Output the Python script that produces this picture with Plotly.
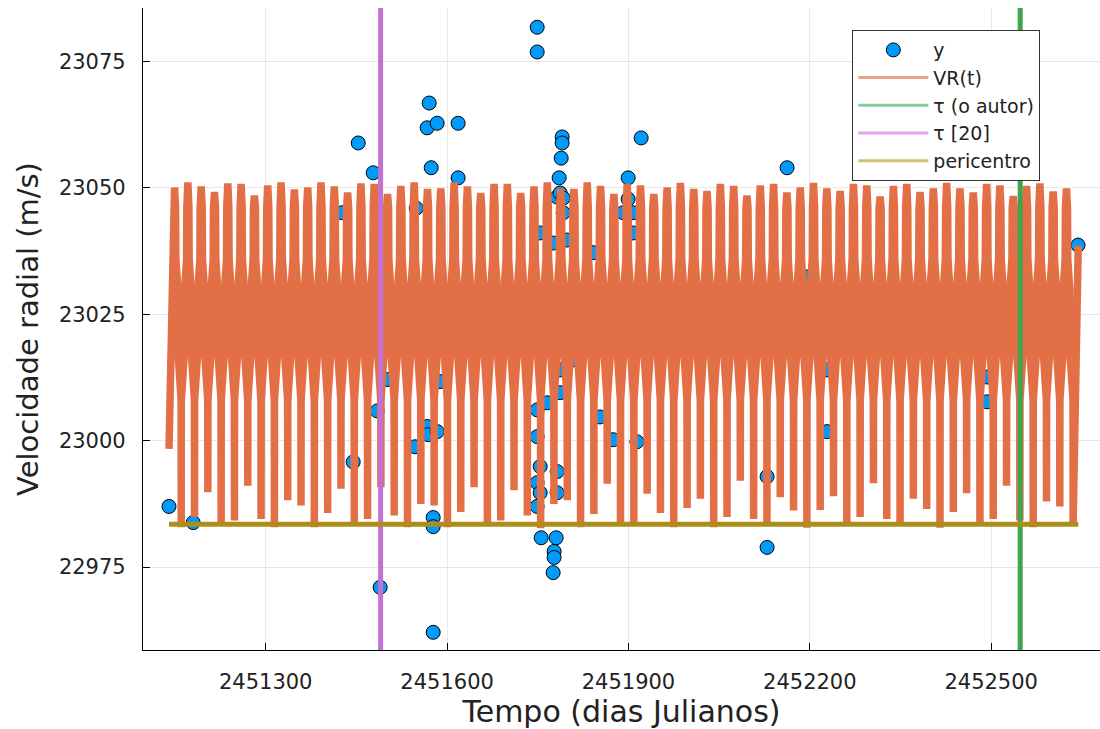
import plotly.graph_objects as go

# ---------------- data ----------------
OBS_T = [2451140, 2451180, 2451426.5, 2451444.7, 2451453, 2451477.8, 2451484.4, 2451489.3,
         2451501, 2451549, 2451547, 2451567, 2451568.7, 2451567, 2451570.4, 2451573.7,
         2451583.6, 2451577, 2451577, 2451577, 2451583.6, 2451618.3, 2451618.3, 2451588.6,
         2451749, 2451749, 2451749, 2451749, 2451754, 2451749, 2451754, 2451749,
         2451755.6, 2451754, 2451765.5, 2451775.4, 2451775.4, 2451777, 2451777, 2451780.4,
         2451782, 2451782, 2451782, 2451785.4, 2451787, 2451788.7, 2451790.3, 2451790.3,
         2451792, 2451792, 2451787, 2451787, 2451798.6, 2451808.5, 2451841.5, 2451853,
         2451874.6, 2451914, 2451899.5, 2451899.5, 2451891.3, 2451907.8, 2451907.8, 2451921,
         2452129.3, 2452129.3, 2452162.4, 2452195.5, 2452228.6, 2452228.6, 2452493.2,
         2452493.2, 2452643.7]
OBS_V = [22987.0, 22983.8, 23045.1, 22995.8, 23058.9, 23053.0, 23005.9, 22971.0,
         23012.1, 23046.0, 22998.8, 23002.8, 23001.2, 23061.9, 23066.8, 23054.0,
         23062.8, 22984.8, 22983.0, 22962.1, 23001.8, 23062.8, 23052.0, 23011.7,
         23081.8, 23076.9, 23006.1, 23000.8, 22994.9, 22991.7, 22989.7, 22987.0,
         22980.8, 23041.1, 23007.5, 23039.1, 22973.9, 22978.1, 22976.9, 22980.8,
         23048.2, 22993.9, 22989.7, 23052.0, 23049.0, 23055.9, 23060.1, 23058.9,
         23048.0, 23045.1, 23009.5, 23014.0, 23039.7, 23016.0, 23037.2, 23004.7,
         23000.2, 22999.8, 23052.0, 23047.8, 23045.1, 23045.1, 23041.1, 23059.9,
         22978.9, 22992.9, 23054.0, 23032.4, 23014.0, 23001.8, 23012.6,
         23007.7, 23038.7]

# model curve VR(t): successive maxima / minima of each cycle
VR_PEAKS = [23050.1, 23051.1, 23050.3, 23049.2, 23050.9, 23050.8, 23048.5, 23050.5, 23051.1, 23049.7,
            23050.1, 23051.1, 23050.3, 23049.1, 23050.9, 23050.8, 23048.8, 23050.4, 23051.1, 23049.8,
            23049.9, 23051.1, 23050.3, 23049.0, 23050.8, 23050.8, 23049.0, 23050.3, 23051.1, 23049.8,
            23049.8, 23051.1, 23050.4, 23048.8,
            23050.8, 23050.5, 23048.8, 23050.1, 23051.0, 23049.8, 23049.4, 23050.8, 23050.4, 23048.5,
            23050.5, 23050.8, 23049.1, 23050.1, 23051.0, 23049.9, 23049.4, 23050.8, 23050.5, 23048.3,
            23050.4, 23050.8, 23049.2, 23049.9, 23051.0, 23049.9, 23049.1, 23050.8, 23050.5, 23048.4,
            23050.4, 23050.9, 23049.3, 23049.9]
VR_TROUGHS = [22982.9, 22984.9, 22989.8, 22983.2, 22984.2, 22991.1, 22984.5, 22982.9, 22988.2, 22987.2,
              22982.9, 22985.7, 22990.5, 22983.6, 22984.5, 22990.8, 22985.2, 22982.9, 22987.5, 22987.2,
              22982.9, 22985.9, 22990.8, 22983.9, 22984.2, 22990.2, 22985.2, 22982.7, 22987.5, 22988.2,
              22982.9, 22985.5, 22991.5, 22983.9,
              22983.2, 22989.5, 22985.7, 22982.9, 22986.7, 22988.5, 22982.9, 22984.9, 22992.1, 22984.5,
              22983.2, 22988.8, 22986.2, 22982.8, 22986.3, 22989.0, 22983.2, 22984.9, 22991.6, 22984.5,
              22983.2, 22988.5, 22986.5, 22982.8, 22985.9, 22989.6, 22983.2, 22984.5, 22991.1, 22984.2,
              22982.9, 22988.0, 22987.0, 22983.6]
# shape of each flank as seen in the picture: (days away from the minimum, level in m/s)
VR_FLANK = [(0.17, 23008.0), (5.6, 23018.0), (5.6, 23030.0), (8.9, 23036.0), (9.3, 23046.0)]
VR_START = (2451140.0, 22998.4)
VR_END = (2452644.0, 23038.6)
VR_FIRST_PEAK_T = 2451149.2
VR_HALF_CYCLE = 11.01

TAU_AUTHOR = 2452548
TAU_REF20 = 2451490
PERICENTRO = 22983.5

X_TICKS = [2451300, 2451600, 2451900, 2452200, 2452500]
Y_TICKS = [22975, 23000, 23025, 23050, 23075]
X_RANGE = [2451097, 2452680]
Y_RANGE = [22958.6, 23085.6]

# ---------------- build the model polyline ----------------
vr_t, vr_v = [VR_START[0]], [VR_START[1]]
for k, (pk, tr) in enumerate(zip(VR_PEAKS, VR_TROUGHS)):
    t_peak = VR_FIRST_PEAK_T + 2 * k * VR_HALF_CYCLE
    t_min = t_peak + VR_HALF_CYCLE
    vr_t.append(t_peak); vr_v.append(pk)
    for d, lev in reversed(VR_FLANK):          # falling flank
        vr_t.append(t_min - d); vr_v.append(lev)
    vr_t.append(t_min); vr_v.append(tr)
    if k < len(VR_PEAKS) - 1:                  # rising flank
        for d, lev in VR_FLANK:
            vr_t.append(t_min + d); vr_v.append(lev)
vr_t.append(VR_END[0]); vr_v.append(VR_END[1])

BLUE, ORANGE, GREEN, PURPLE, OLIVE = "#009AFA", "#E36F47", "#3EA44E", "#C371D2", "#AC8E18"
FONT = "DejaVu Sans"

fig = go.Figure()
fig.add_trace(go.Scatter(x=OBS_T, y=OBS_V, mode="markers", name="y",
                         marker=dict(size=14, color=BLUE, line=dict(color="black", width=1))))
fig.add_trace(go.Scatter(x=vr_t, y=vr_v, mode="lines", name="VR(t)", showlegend=False,
                         line=dict(color=ORANGE, width=7.5, simplify=False)))
fig.add_trace(go.Scatter(x=[TAU_AUTHOR, TAU_AUTHOR], y=Y_RANGE, mode="lines", showlegend=False,
                         name="τ (o autor)", line=dict(color=GREEN, width=5)))
fig.add_trace(go.Scatter(x=[TAU_REF20, TAU_REF20], y=Y_RANGE, mode="lines", showlegend=False,
                         name="τ [20]", line=dict(color=PURPLE, width=5)))
fig.add_trace(go.Scatter(x=[VR_START[0], VR_END[0]], y=[PERICENTRO, PERICENTRO], mode="lines",
                         showlegend=False, name="pericentro", line=dict(color=OLIVE, width=5)))

# legend samples (thin, pale as in the reference legend)
for name, col in [("VR(t)", "#EFA088"), ("τ (o autor)", "#8CCB95"),
                  ("τ [20]", "#DDA8E6"), ("pericentro", "#D2BE78")]:
    fig.add_trace(go.Scatter(x=[None], y=[None], mode="lines", name=name,
                             line=dict(color=col, width=3)))

axis_common = dict(showgrid=True, gridcolor="rgba(0,0,0,0.09)", gridwidth=1,
                   zeroline=False, showline=True, linecolor="black", linewidth=1.2,
                   ticks="inside", ticklen=7, tickcolor="black", tickwidth=1,
                   tickfont=dict(family=FONT, size=21, color="#222"), mirror=False)

fig.update_layout(
    width=1100, height=729,
    margin=dict(l=143, r=0, t=8, b=79, autoexpand=False),
    paper_bgcolor="white", plot_bgcolor="white",
    font=dict(family=FONT, color="#222"),
    xaxis=dict(range=X_RANGE, tickvals=X_TICKS, ticktext=[str(v) for v in X_TICKS],
               title=dict(text="Tempo (dias Julianos)", font=dict(family=FONT, size=30, color="#222"),
                          standoff=2),
               ticklabelstandoff=13, **axis_common),
    yaxis=dict(range=Y_RANGE, tickvals=Y_TICKS, ticktext=[str(v) for v in Y_TICKS],
               title=dict(text="Velocidade radial (m/s)", font=dict(family=FONT, size=29, color="#222"),
                          standoff=11),
               ticklabelstandoff=12, **axis_common),
    legend=dict(x=0.741, y=0.966, xanchor="left", yanchor="top",
                bgcolor="white", bordercolor="#333", borderwidth=1.2,
                font=dict(family=FONT, size=19, color="#222"),
                itemwidth=70, tracegroupgap=0),
    showlegend=True,
)

fig.write_html("out.html")
